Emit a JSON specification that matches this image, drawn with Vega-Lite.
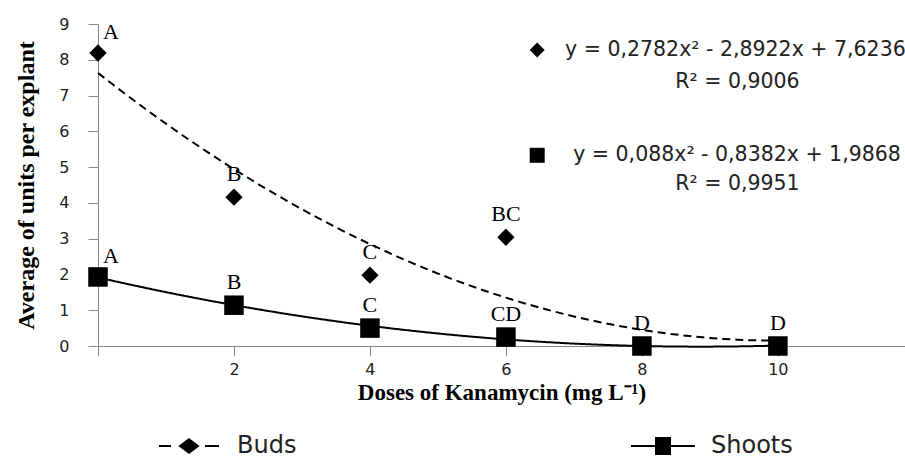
{
  "$schema": "https://vega.github.io/schema/vega-lite/v6.json",
  "width": 807,
  "height": 322,
  "autosize": {"type": "none"},
  "padding": {"left": 98, "top": 24, "right": 0, "bottom": 112},
  "background": "white",
  "config": {"view": {"stroke": null}},
  "datasets": {
    "obs": [
      {"series": "Buds", "dose": 0, "value": 8.19, "letter": "A"},
      {"series": "Buds", "dose": 2, "value": 4.16, "letter": "B"},
      {"series": "Buds", "dose": 4, "value": 1.98, "letter": "C"},
      {"series": "Buds", "dose": 6, "value": 3.04, "letter": "BC"},
      {"series": "Buds", "dose": 8, "value": 0, "letter": ""},
      {"series": "Buds", "dose": 10, "value": 0, "letter": ""},
      {"series": "Shoots", "dose": 0, "value": 1.93, "letter": "A"},
      {"series": "Shoots", "dose": 2, "value": 1.14, "letter": "B"},
      {"series": "Shoots", "dose": 4, "value": 0.5, "letter": "C"},
      {"series": "Shoots", "dose": 6, "value": 0.25, "letter": "CD"},
      {"series": "Shoots", "dose": 8, "value": 0, "letter": "D"},
      {"series": "Shoots", "dose": 10, "value": 0, "letter": "D"}
    ],
    "notes": [
      {"dose": 6.87, "value": 8.27, "text": "y = 0,2782x² - 2,8922x + 7,6236"},
      {"dose": 8.49, "value": 7.38, "text": "R² = 0,9006"},
      {"dose": 6.99, "value": 5.33, "text": "y = 0,088x² - 0,8382x + 1,9868"},
      {"dose": 8.49, "value": 4.52, "text": "R² = 0,9951"}
    ],
    "keys": [
      {"series": "Buds", "dose": 6.46, "value": 8.27},
      {"series": "Shoots", "dose": 6.46, "value": 5.33}
    ]
  },
  "encoding": {
    "x": {
      "field": "dose", "type": "quantitative",
      "scale": {"domain": [0, 11.87], "nice": false, "zero": false},
      "axis": {
        "values": [0, 2, 4, 6, 8, 10],
        "labelExpr": "datum.value == 0 ? '' : datum.label",
        "title": "Doses of Kanamycin (mg L⁻¹)",
        "titleFont": "Liberation Serif", "titleFontSize": 23, "titleFontWeight": "bold", "titleColor": "black",
        "labelFont": "DejaVu Sans", "labelFontSize": 16, "labelColor": "#222",
        "tickSize": 10, "labelPadding": 5, "titlePadding": 4,
        "domainColor": "#888", "tickColor": "#888", "grid": false
      }
    },
    "y": {
      "field": "value", "type": "quantitative",
      "scale": {"domain": [0, 9], "nice": false},
      "axis": {
        "values": [0, 1, 2, 3, 4, 5, 6, 7, 8, 9],
        "title": "Average of units per explant",
        "titleFont": "Liberation Serif", "titleFontSize": 24, "titleFontWeight": "bold", "titleColor": "black",
        "labelFont": "DejaVu Sans", "labelFontSize": 16, "labelColor": "#222",
        "tickSize": 10, "labelPadding": 19, "titlePadding": 20,
        "domainColor": "#888", "tickColor": "#888", "grid": false
      }
    }
  },
  "layer": [
    {
      "data": {"name": "obs"},
      "transform": [
        {"regression": "value", "on": "dose", "groupby": ["series"], "method": "poly", "order": 2, "extent": [0, 10]}
      ],
      "mark": {"type": "line", "color": "black", "strokeWidth": 2},
      "encoding": {
        "strokeDash": {"field": "series", "type": "nominal", "scale": {"domain": ["Buds", "Shoots"], "range": [[8, 5], [1, 0]]}, "legend": null}
      }
    },
    {
      "data": {"name": "obs"},
      "mark": {"type": "point", "filled": true, "color": "black", "opacity": 1},
      "encoding": {
        "shape": {"field": "series", "type": "nominal", "scale": {"domain": ["Buds", "Shoots"], "range": ["diamond", "square"]}, "legend": null},
        "size": {"field": "series", "type": "nominal", "scale": {"domain": ["Buds", "Shoots"], "range": [300, 380]}, "legend": null}
      }
    },
    {
      "data": {"name": "obs"},
      "transform": [{"filter": "datum.dose > 0"}],
      "mark": {"type": "text", "font": "Liberation Serif", "fontSize": 22, "color": "black", "baseline": "middle", "dy": -23},
      "encoding": {"text": {"field": "letter"}}
    },
    {
      "data": {"name": "obs"},
      "transform": [{"filter": "datum.dose == 0"}],
      "mark": {"type": "text", "font": "Liberation Serif", "fontSize": 22, "color": "black", "baseline": "middle", "dy": -21, "dx": 13},
      "encoding": {"text": {"field": "letter"}}
    },
    {
      "data": {"name": "keys"},
      "mark": {"type": "point", "filled": true, "color": "black", "opacity": 1},
      "encoding": {
        "shape": {"field": "series", "type": "nominal", "scale": {"domain": ["Buds", "Shoots"], "range": ["diamond", "square"]}, "legend": null},
        "size": {"field": "series", "type": "nominal", "scale": {"domain": ["Buds", "Shoots"], "range": [225, 225]}, "legend": null}
      }
    },
    {
      "data": {"name": "notes"},
      "mark": {"type": "text", "font": "DejaVu Sans", "fontSize": 20.5, "color": "#222", "align": "left", "baseline": "middle"},
      "encoding": {"text": {"field": "text"}}
    },
    {
      "data": {"name": "obs"},
      "transform": [{"filter": "datum.dose < 0"}],
      "mark": {"type": "point", "filled": false, "color": "black", "strokeWidth": 2, "opacity": 1},
      "encoding": {
        "shape": {
          "field": "series", "type": "nominal",
          "scale": {"domain": ["Buds", "Shoots"], "range": [
            "M-3,0H-1.8M1.6,0H3M0,-0.67L0.9,0L0,0.67L-0.9,0ZM0,-0.56L0.75,0L0,0.56L-0.75,0ZM0,-0.45L0.6,0L0,0.45L-0.6,0ZM0,-0.34L0.45,0L0,0.34L-0.45,0ZM0,-0.22L0.3,0L0,0.22L-0.3,0ZM0,-0.11L0.15,0L0,0.11L-0.15,0ZM-0.05,0H0.05",
            "M-3.2,0H3.2M-0.7,-0.8H0.7V0.8H-0.7ZM-0.55,-0.65H0.55V0.65H-0.55ZM-0.4,-0.5H0.4V0.5H-0.4ZM-0.25,-0.35H0.25V0.35H-0.25ZM-0.1,-0.2H0.1V0.2H-0.1Z"
          ]},
          "legend": {
            "orient": "none", "legendX": 79, "legendY": 410, "direction": "horizontal", "title": null,
            "symbolSize": 400, "symbolStrokeWidth": 2, "symbolStrokeColor": "black", "symbolOpacity": 1,
            "labelFont": "DejaVu Sans", "labelFontSize": 24, "labelColor": "#222", "labelOffset": 36, "columnPadding": 330, "padding": 0
          }
        }
      }
    }
  ],
  "resolve": {"scale": {"shape": "independent", "size": "independent"}, "legend": {"shape": "independent"}}
}
